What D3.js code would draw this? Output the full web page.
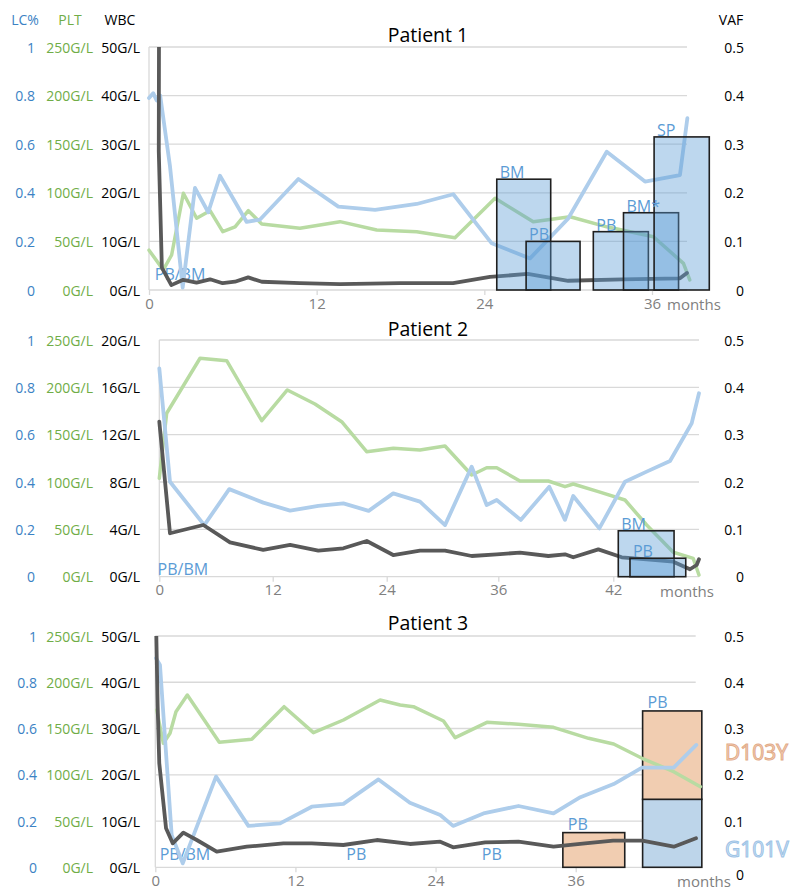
<!DOCTYPE html>
<html><head><meta charset="utf-8">
<script src="https://cdn.jsdelivr.net/npm/d3@7"></script>
<style>
body{margin:0;background:#fff}
svg{display:block}
text{font-family:"Open Sans","Noto Sans","DejaVu Sans",sans-serif;font-weight:400}
</style></head>
<body><svg id="chart" width="803" height="892"></svg>
<script>
// ---------- DATA ----------
// Axis tick labels
const lcTicks  = [0, 0.2, 0.4, 0.6, 0.8, 1];
const pltTicks = [0, 50, 100, 150, 200, 250];
const wbcTicks50 = [0, 10, 20, 30, 40, 50];
const wbcTicks20 = [0, 4, 8, 12, 16, 20];
const vafTicks = [0, 0.1, 0.2, 0.3, 0.4, 0.5];
const monthTicks1 = [0, 12, 24, 36];
const monthTicks2 = [0, 12, 24, 36, 42];
const monthTicks3 = [0, 12, 24, 36];

// Patient 1  [month, value]
const p1WBC = [[0.72,60],[0.7,28.5],[0.92,4.6],[1.6,1.0],[2.45,2.1],[3.4,1.5],[4.37,2.2],[5.27,1.4],[6.15,1.7],[7.1,2.6],[8.07,1.7],[10.8,1.4],[13.67,1.2],[17.97,1.4],[21.76,1.4],[24.4,2.7],[27.1,3.3],[30,1.9],[33.9,2.2],[38,2.4],[38.5,3.5]];
const p1PLT = [[0,41],[1.02,20.6],[1.62,36],[2.46,99.5],[3.41,73.8],[4.37,81.6],[5.28,60],[6.16,65],[7.11,81.6],[8.07,67.9],[10.8,63.5],[13.67,70.3],[16.3,61.7],[19.16,60],[21.9,53.8],[24.77,94.3],[27.5,70.3],[30.14,75.4],[32.76,65],[36.1,54.8],[38.25,27.4],[38.7,10.3]];
const p1LC  = [[0,0.79],[0.3,0.81],[0.55,0.78],[0.8,0.8],[1.5,0.51],[2.41,0.01],[3.29,0.42],[4.24,0.32],[5.08,0.47],[6.99,0.28],[7.95,0.29],[10.69,0.457],[13.55,0.343],[16.18,0.33],[19.16,0.354],[21.78,0.394],[24.53,0.192],[27.27,0.13],[30.01,0.295],[32.76,0.569],[35.5,0.446],[38.0,0.473],[38.53,0.707]];
const p1VAF = [
  {label:"BM",  start:24.89, end:28.75, vaf:0.228},
  {label:"PB",  start:26.99, end:30.85, vaf:0.100},
  {label:"PB",  start:31.80, end:35.74, vaf:0.120},
  {label:"BM*", start:33.96, end:37.90, vaf:0.159},
  {label:"SP",  start:36.15, end:40.10, vaf:0.315}
];
const p1Samples = [{label:"PB/BM", start:0.2, end:6.3}];

// Patient 2
const p2WBC = [[0,13.1],[1.13,3.67],[4.66,4.37],[7.48,2.9],[11,2.26],[13.83,2.68],[16.8,2.2],[19.44,2.4],[21.9,3.02],[24.7,1.83],[27.58,2.2],[30.27,2.2],[33.14,1.75],[35.83,1.89],[37.13,2.03],[38.61,1.75],[39.48,1.89],[39.91,1.64],[41.22,2.31],[42.44,1.64],[43.74,1.47],[45.13,1.27],[46.0,0.63],[46.35,0.99],[46.47,1.47]];
const p2PLT = [[0,103.9],[0.78,172.6],[4.31,230.7],[7.13,228.1],[10.84,164.8],[13.54,197.2],[16.45,182.4],[19.26,163.7],[21.89,132],[24.71,135.6],[27.58,133.8],[30.27,138],[33.14,107.4],[34.75,115.1],[35.83,115.1],[37.13,101.1],[38.61,101.1],[39.48,95.1],[39.91,97.9],[41.22,89.8],[42.61,81],[43.74,54.6],[45.13,25.8],[46.17,19.4],[46.47,1.8]];
const p2LC  = [[0,0.88],[1.13,0.401],[4.76,0.218],[7.4,0.37],[11,0.313],[13.83,0.279],[16.8,0.299],[19.44,0.31],[22.1,0.278],[24.7,0.352],[27.58,0.317],[30.27,0.218],[33.14,0.465],[34.75,0.303],[35.83,0.324],[37.17,0.24],[38.66,0.38],[39.48,0.24],[39.91,0.341],[41.27,0.204],[42.61,0.401],[43.74,0.444],[44.96,0.489],[46.09,0.648],[46.47,0.775]];
const p2VAF = [
  {label:"BM", start:42.26, end:45.17, vaf:0.097},
  {label:"PB", start:42.87, end:45.78, vaf:0.039}
];
const p2Samples = [{label:"PB/BM", start:-0.5, end:8.4}];

// Patient 3
const p3WBC = [[0.05,55],[0.2,35],[0.34,22.5],[0.92,8.43],[1.49,5.19],[2.4,7.48],[3.55,5.9],[5.26,3.37],[7.83,4.45],[10.97,5.19],[13.4,5.19],[16.1,4.82],[18.97,5.9],[21.8,5.04],[24.4,5.53],[25.5,4.32],[28.25,5.4],[31.1,5.53],[34.1,4.45],[36.8,5.19],[39.2,5.75],[41.7,5.75],[44.4,4.45],[46.3,6.27]];
const p3PLT = [[0.12,170],[0.69,134],[1.26,144.8],[1.77,168.2],[2.74,186.2],[5.48,135.1],[8.26,138.3],[11.03,173.6],[13.54,145.5],[16.11,159.2],[19.25,180.8],[20.97,175.4],[22.1,173.6],[24.68,158.1],[25.68,140.1],[28.4,156.7],[31.1,154.6],[34.1,151.3],[37.1,139.4],[39.25,133.3],[41.68,117.8],[44.39,103.3],[46.68,87.1]];
const p3LC  = [[0.06,0.904],[0.4,0.875],[1.4,0.14],[2.35,0.017],[5.2,0.392],[7.97,0.179],[10.69,0.19],[13.4,0.262],[16.11,0.274],[19.11,0.38],[21.8,0.279],[24.4,0.226],[25.5,0.179],[28.1,0.233],[31.1,0.265],[34.1,0.233],[36.4,0.303],[39.25,0.36],[41.68,0.431],[44.39,0.431],[46.33,0.529]];
const p3VAF = [
  {label:"PB", start:34.9,  end:40.2, g101v:0.000, d103y:0.075},
  {label:"PB", start:41.73, end:46.8, g101v:0.147, d103y:0.191}
];
const p3Samples = [
  {label:"PB/BM", start:0.12, end:7.26},
  {label:"PB",    start:16.1, end:23.1},
  {label:"PB",    start:27.7, end:33.3}
];
const mutationLabels = ["D103Y","G101V"];

// ---------- STYLE / LAYOUT ----------
const C = {
  grid:"#d9d9d9", lc:"#aecdeb", plt:"#b8dba2", wbc:"#595959",
  lcText:"#3b82c4", pltText:"#70ad47", tick:"#808080", label:"#5b9bd5",
  barBlue:"#5b9bd5", peach:"#f1cdb1", blueSolid:"#bdd5ea"
};
const AX = 14;

const svg = d3.select("#chart");
const defs = svg.append("defs");
defs.append("filter").attr("id","glow").attr("x","-20%").attr("y","-200%").attr("width","140%").attr("height","500%")
  .append("feGaussianBlur").attr("stdDeviation","1.6");

// header
svg.append("text").attr("x",25).attr("y",25).attr("text-anchor","middle").attr("font-size",AX).attr("fill",C.lcText).text("LC%");
svg.append("text").attr("x",70).attr("y",25).attr("text-anchor","middle").attr("font-size",AX).attr("fill",C.pltText).text("PLT");
svg.append("text").attr("x",120).attr("y",25).attr("text-anchor","middle").attr("font-size",AX).attr("fill","#000").text("WBC");
svg.append("text").attr("x",731).attr("y",25).attr("text-anchor","middle").attr("font-size",AX).attr("fill","#000").text("VAF");

const panels = [
  {id:1, title:"Patient 1", titleY:42, left:149, right:687, top:47, bottom:290,
   xDom:[0,36], xRng:[149,652], ticks:monthTicks1, wbcTicks:wbcTicks50, wbcMax:50,
   wbc:p1WBC, plt:p1PLT, lc:p1LC, vaf:p1VAF, samples:p1Samples, sampleLabelDy:-10,
   monthsX:667, monthsAnchor:"start", lcX:35, zeroShift:0},
  {id:2, title:"Patient 2", titleY:336, left:159.3, right:699, top:340, bottom:576.7,
   xDom:[0,12,24,36,42], xRng:[159.3,272.7,386.7,498.3,613.3], ticks:monthTicks2, wbcTicks:wbcTicks20, wbcMax:20,
   wbc:p2WBC, plt:p2PLT, lc:p2LC, vaf:p2VAF, samples:p2Samples, sampleLabelDy:-2,
   monthsX:687, monthsAnchor:"middle", lcX:35, zeroShift:0},
  {id:3, title:"Patient 3", titleY:630, left:155.3, right:695.7, top:636, bottom:867.3,
   xDom:[0,36], xRng:[155.3,575.7], ticks:monthTicks3, wbcTicks:wbcTicks50, wbcMax:50,
   wbc:p3WBC, plt:p3PLT, lc:p3LC, vaf:p3VAF, samples:p3Samples, sampleLabelDy:-7,
   monthsX:704, monthsAnchor:"middle", lcX:37, zeroShift:7}
];

panels.forEach(p => {
  const g = svg.append("g");
  const x = d3.scaleLinear().domain(p.xDom).range(p.xRng);
  const yLC = d3.scaleLinear().domain([0,1]).range([p.bottom,p.top]);
  const yPLT = d3.scaleLinear().domain([0,250]).range([p.bottom,p.top]);
  const yWBC = d3.scaleLinear().domain([0,p.wbcMax]).range([p.bottom,p.top]);
  const yVAF = d3.scaleLinear().domain([0,0.5]).range([p.bottom,p.top]);

  // gridlines
  g.selectAll(".grid").data(vafTicks).join("line")
    .attr("x1",p.left).attr("x2",p.right)
    .attr("y1",d=>yVAF(d)).attr("y2",d=>yVAF(d))
    .attr("stroke",C.grid).attr("stroke-width",1.3);
  g.append("line").attr("x1",p.left).attr("x2",p.left).attr("y1",p.top).attr("y2",p.bottom)
    .attr("stroke",C.grid).attr("stroke-width",1.3);

  // title
  g.append("text").attr("x",428).attr("y",p.titleY).attr("text-anchor","middle")
    .attr("font-size",19.5).attr("fill","#000").text(p.title);

  // left / right axes
  const mkAxis = (scale, ticks, fmt, xPos, color) => {
    const ax = g.append("g").attr("transform",`translate(${xPos},0)`)
      .call(d3.axisLeft(scale).tickValues(ticks).tickFormat(fmt).tickSize(0).tickPadding(0));
    ax.select(".domain").remove();
    ax.selectAll("text").attr("font-size",AX).attr("fill",color)
      .attr("font-family",null).attr("dy","0.36em");
    return ax;
  };
  mkAxis(yLC, lcTicks, d=>String(d), p.lcX, C.lcText);
  mkAxis(yPLT, pltTicks, d=>d+"G/L", 93, C.pltText);
  mkAxis(yWBC, p.wbcTicks, d=>d+"G/L", 140, "#000");
  const vAx = mkAxis(yVAF, vafTicks, d=>String(d), 744, "#000");
  vAx.selectAll(".tick").filter(d=>d===0).select("text").attr("y",p.zeroShift);

  // bottom axis
  const bx = g.append("g").attr("transform",`translate(0,${p.bottom})`)
    .call(d3.axisBottom(x).tickValues(p.ticks).tickSize(5).tickPadding(3).tickFormat(d=>String(d)));
  bx.select(".domain").remove();
  bx.selectAll("line").attr("stroke",C.grid).attr("stroke-width",1.3);
  bx.selectAll("text").attr("font-size",15).attr("fill",C.tick).attr("font-family",null);
  g.append("text").attr("x",p.monthsX).attr("y",p.bottom+20).attr("text-anchor",p.monthsAnchor)
    .attr("font-size",15).attr("fill",C.tick).text("months");

  // clip
  const cid = "clip"+p.id;
  defs.append("clipPath").attr("id",cid).append("rect")
    .attr("x",p.left-10).attr("y",p.top).attr("width",p.right-p.left+40).attr("height",p.bottom-p.top+12);

  // sample-type glow bars
  g.selectAll(".smp").data(p.samples).join("line")
    .attr("x1",d=>x(d.start)).attr("x2",d=>x(d.end))
    .attr("y1",p.bottom-2).attr("y2",p.bottom-2)
    .attr("stroke","#9dc3e6").attr("stroke-width",4.5).attr("stroke-linecap","round")
    .attr("filter","url(#glow)");
  g.selectAll(".smpT").data(p.samples).join("text")
    .attr("x",d=>x(d.start)+3).attr("y",p.bottom+p.sampleLabelDy)
    .attr("font-size",16).attr("fill",C.label).text(d=>d.label);

  const lineGen = (ys) => d3.line().x(d=>x(d[0])).y(d=>ys(d[1]));
  const drawLines = () => {
    const lg = g.append("g").attr("clip-path",`url(#${cid})`);
    lg.append("path").datum(p.plt).attr("d",lineGen(yPLT)).attr("fill","none")
      .attr("stroke",C.plt).attr("stroke-width",3.5).attr("stroke-linejoin","round").attr("stroke-linecap","round");
    lg.append("path").datum(p.lc).attr("d",lineGen(yLC)).attr("fill","none")
      .attr("stroke",C.lc).attr("stroke-width",3.8).attr("stroke-linejoin","round").attr("stroke-linecap","round");
    lg.append("path").datum(p.wbc).attr("d",lineGen(yWBC)).attr("fill","none")
      .attr("stroke",C.wbc).attr("stroke-width",3.8).attr("stroke-linejoin","round").attr("stroke-linecap","round");
  };

  if (p.id !== 3) {
    drawLines();
    g.selectAll(".bar").data(p.vaf).join("rect")
      .attr("x",d=>x(d.start)).attr("width",d=>x(d.end)-x(d.start))
      .attr("y",d=>yVAF(d.vaf)).attr("height",d=>p.bottom-yVAF(d.vaf))
      .attr("fill",C.barBlue).attr("fill-opacity",0.4)
      .attr("stroke","#1f1f1f").attr("stroke-width",1.6);
    g.selectAll(".barT").data(p.vaf).join("text")
      .attr("x",d=>x(d.start)+3).attr("y",d=>yVAF(d.vaf)-1)
      .attr("font-size",16).attr("fill",C.label).text(d=>d.label);
  } else {
    const bg = g.append("g");
    p.vaf.forEach(d => {
      const x0 = x(d.start), w = x(d.end)-x(d.start);
      if (d.g101v > 0) {
        bg.append("rect").attr("x",x0).attr("width",w)
          .attr("y",yVAF(d.g101v)).attr("height",p.bottom-yVAF(d.g101v))
          .attr("fill",C.blueSolid).attr("stroke","#1f1f1f").attr("stroke-width",1.6);
      }
      bg.append("rect").attr("x",x0).attr("width",w)
        .attr("y",yVAF(d.g101v+d.d103y)).attr("height",yVAF(d.g101v)-yVAF(d.g101v+d.d103y))
        .attr("fill",C.peach).attr("stroke","#1f1f1f").attr("stroke-width",1.6);
      bg.append("text").attr("x",x0+5).attr("y",yVAF(d.g101v+d.d103y)-3)
        .attr("font-size",16).attr("fill",C.label).text(d.label);
    });
    drawLines();
    // mutation legend labels
    g.append("text").attr("x",725).attr("y",759.5).attr("font-size",21).attr("font-weight","bold")
      .attr("fill","#f6d6c2").attr("stroke","#e2ab88").attr("stroke-width",1).text(mutationLabels[0]);
    g.append("text").attr("x",725).attr("y",857).attr("font-size",21).attr("font-weight","bold")
      .attr("fill","#d6e6f4").attr("stroke","#9dc3e6").attr("stroke-width",1).text(mutationLabels[1]);
  }
});
</script></body></html>
